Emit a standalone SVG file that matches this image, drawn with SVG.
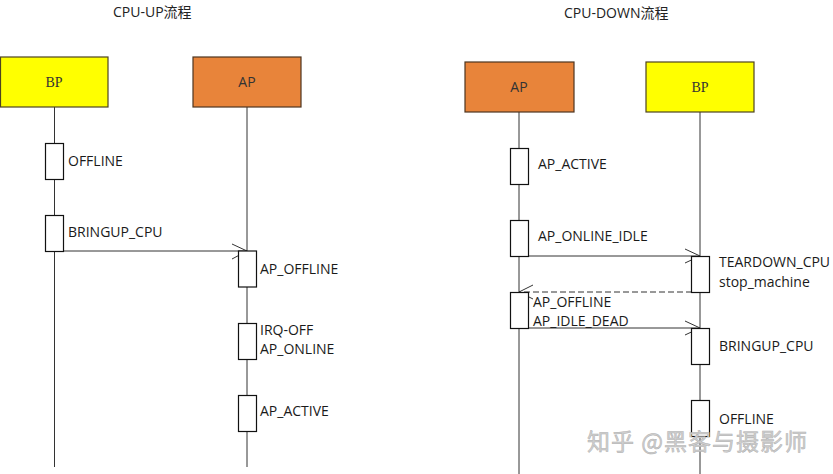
<svg xmlns="http://www.w3.org/2000/svg" width="833" height="474" viewBox="0 0 833 474">
<style>
.t{font-family:"Open Sans","Noto Sans CJK SC",sans-serif;font-size:14px;fill:#1a1a1a}
.title{font-family:"Open Sans","Noto Sans CJK SC",sans-serif;font-size:14px;fill:#222}
.bp{fill:#ffff00;stroke:#4d4320;stroke-width:1.2}
.ap{fill:#e8843a;stroke:#4d3520;stroke-width:1.2}
.bpt{font-family:"Liberation Serif","Noto Sans CJK SC",serif;font-size:14px;fill:#333;text-anchor:middle}
.apt{font-family:"Open Sans",sans-serif;font-size:14px;fill:#333;text-anchor:middle}
.life{stroke:#333;stroke-width:1;fill:none}
.act{fill:#fff;stroke:#111;stroke-width:1.2}
.msg{stroke:#333;stroke-width:1;fill:none}
.dash{stroke:#333;stroke-width:1;fill:none;stroke-dasharray:6,3}
.wm{font-family:"Noto Sans CJK SC",sans-serif;font-size:23px;letter-spacing:1px;fill:#cfcfcf;stroke:#b0b0b0;stroke-width:0.5}
</style>
<rect width="833" height="474" fill="#fff"/>
<text class="title" x="113" y="17">CPU-UP流程</text>
<text class="title" x="564" y="18">CPU-DOWN流程</text>

<g id="connectors">
<line class="life" x1="54.5" y1="107" x2="54.5" y2="467"/>
<line class="life" x1="247" y1="107" x2="247" y2="467"/>
<line class="life" x1="519" y1="112" x2="519" y2="474"/>
<line class="life" x1="700" y1="112" x2="700" y2="474"/>
<path class="msg" d="M63 251 H247 M232 244 L247 251 L232 259"/>
<path class="msg" d="M528 256 H700 M685 249 L700 256 L685 263"/>
<path class="dash" d="M692 292 H519"/>
<path class="msg" d="M533 285 L519 292 L533 299"/>
<path class="msg" d="M528 328 H700 M685 321 L700 328 L685 335"/>
</g>

<g id="up-bp"><rect class="bp" x="0.5" y="57" width="107.5" height="50"/><text class="bpt" x="54" y="87">BP</text></g>
<g id="up-ap"><rect class="ap" x="193" y="57" width="108" height="50"/><text class="apt" x="247" y="87">AP</text></g>
<g id="down-ap"><rect class="ap" x="465" y="62" width="109" height="50"/><text class="apt" x="519" y="92">AP</text></g>
<g id="down-bp"><rect class="bp" x="646" y="62" width="108" height="50"/><text class="bpt" x="700" y="92">BP</text></g>

<g id="up-offline"><rect class="act" x="45.5" y="143.5" width="18" height="36"/><text class="t" x="68" y="166">OFFLINE</text></g>
<g id="up-bringup"><rect class="act" x="45.5" y="215.5" width="18" height="36"/><text class="t" x="68" y="237">BRINGUP_CPU</text></g>
<g id="up-apoffline"><rect class="act" x="238.5" y="251" width="18" height="36"/><text class="t" x="260" y="274">AP_OFFLINE</text></g>
<g id="up-aponline"><rect class="act" x="238.5" y="323.5" width="18" height="36"/><text class="t" x="260" y="335">IRQ-OFF</text><text class="t" x="260" y="354">AP_ONLINE</text></g>
<g id="up-apactive"><rect class="act" x="238.5" y="395.5" width="18" height="36"/><text class="t" x="260" y="416">AP_ACTIVE</text></g>

<g id="down-apactive"><rect class="act" x="510.5" y="148.5" width="18" height="36"/><text class="t" x="538" y="169">AP_ACTIVE</text></g>
<g id="down-aponlineidle"><rect class="act" x="510.5" y="220.5" width="18" height="36"/><text class="t" x="538" y="241">AP_ONLINE_IDLE</text></g>
<g id="down-teardown"><rect class="act" x="691.5" y="256.5" width="18" height="36"/><text class="t" x="719" y="267">TEARDOWN_CPU</text><text class="t" x="719" y="287">stop_machine</text></g>
<g id="down-apoffline"><rect class="act" x="510.5" y="292.5" width="18" height="36"/><text class="t" x="533" y="307">AP_OFFLINE</text><text class="t" x="533" y="326">AP_IDLE_DEAD</text></g>
<g id="down-bringup"><rect class="act" x="691.5" y="328.5" width="18" height="36"/><text class="t" x="719" y="351">BRINGUP_CPU</text></g>
<g id="down-offline"><rect class="act" x="691.5" y="400.5" width="18" height="36"/><text class="t" x="719" y="424">OFFLINE</text></g>

<text class="wm" x="587" y="450">知乎 @黑客与摄影师</text>
</svg>
